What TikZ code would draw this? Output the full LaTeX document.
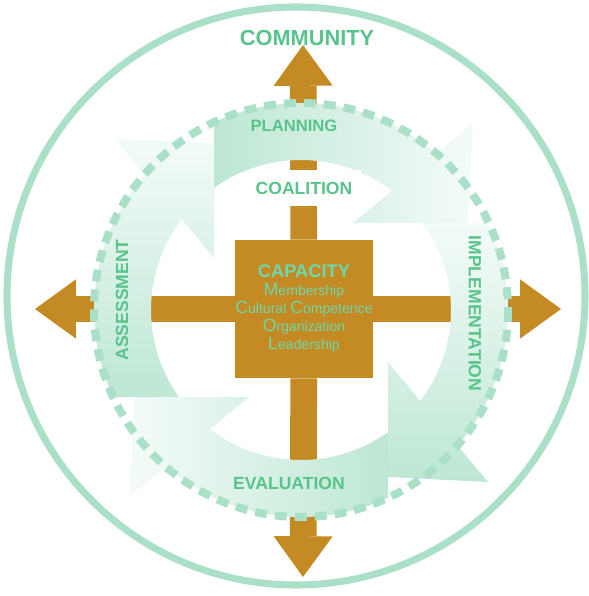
\documentclass[tikz,border=0pt]{standalone}
\usepackage{fontspec}
\setmainfont{Liberation Sans}
\usetikzlibrary{arrows.meta}

\newcommand{\bigini}[1]{{\fontsize{12.5}{12.8}\selectfont #1}}

\begin{document}
\begin{tikzpicture}[x=0.025cm, y=-0.025cm]
    \definecolor{gold}{HTML}{C48B24}
    \definecolor{ring}{HTML}{ABE0C8}
    \definecolor{band}{HTML}{BDE7D4}
    \definecolor{bandlight}{HTML}{F4FBF8}
    \definecolor{label}{HTML}{58C48B}
    \definecolor{captext}{HTML}{6ED8AC}

    \tikzset{
        arm/.style={draw=gold, line width=19pt, -{Triangle[width=42pt, length=29pt, line width=0pt]}},
        stage/.style={text=label, inner sep=0pt, font=\fontsize{12.5}{14}\selectfont\bfseries},
    }

    \useasboundingbox (0,0) rectangle (589,596);

    % outer ring
    \draw[ring, line width=5pt] (296,296) circle[radius=289];

    % capacity square and the four arms
    \node[fill=gold, minimum size=3.45cm, inner sep=0pt, text=captext, align=center,
          font=\fontsize{10}{12.8}\selectfont] (cap) at (304,309)
        {{\fontsize{13}{13}\selectfont\bfseries CAPACITY}\\
         \bigini{M}embership\\
         \bigini{C}ultural \bigini{C}ompetence\\
         \bigini{O}rganization\\
         \bigini{L}eadership};

    \coordinate (toptip) at (303,45);
    \coordinate (bottomtip) at (303,577);
    \coordinate (lefttip) at (35,309);
    \coordinate (righttip) at (561,309);

    \draw[arm] (cap) -- (toptip);
    \draw[arm] (cap) -- (bottomtip);
    \draw[arm] (cap) -- (lefttip);
    \draw[arm] (cap) -- (righttip);

    % cycle bands, one per quarter
    \foreach \turn/\sa in {0/90, 90/180, 180/-90, 270/180} {
        \begin{scope}[shift={(301,310)}, rotate=-\turn]
            \shade[top color=band, bottom color=bandlight, shading angle=\sa]
                (-114.9:207) arc[start angle=-114.9, end angle=-49.1, radius=207]
                -- (172,-187) -- (167,-87) -- (52,-87) -- (-52.7:150)
                arc[start angle=-52.7, end angle=-125.4, radius=150] -- cycle;
        \end{scope}
    }

    \draw[ring, line width=5.7pt, dash pattern=on 8.5pt off 5.7pt] (301,310) circle[radius=207];

    % labels
    \node[stage, font=\fontsize{15.5}{18}\selectfont\bfseries] (community) at (307,38) {COMMUNITY};
    \node[stage, font=\fontsize{11.8}{14}\selectfont\bfseries] (planning) at (294,126) {PLANNING};
    \node[stage, fill=white, minimum height=0.875cm, inner xsep=6pt] (coalition) at (304,188) {COALITION};
    \node[stage] (evaluation) at (289,483.5) {EVALUATION};
    \node[stage, rotate=90] (assessment) at (122,300) {ASSESSMENT};
    \node[stage, rotate=-90] (implementation) at (475,313.5) {IMPLEMENTATION};

\end{tikzpicture}
\end{document}
